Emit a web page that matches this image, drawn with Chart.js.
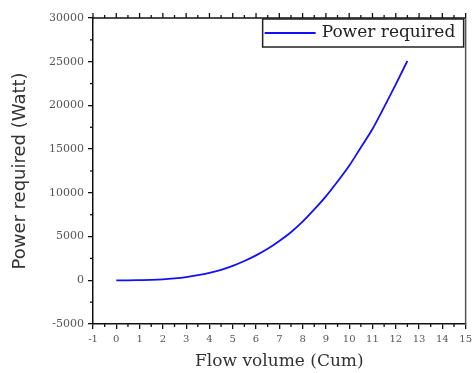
<!DOCTYPE html>
<html>
<head>
<meta charset="utf-8">
<script src="https://cdn.jsdelivr.net/npm/chart.js@4.4.1/dist/chart.umd.min.js"></script>
<style>
  html, body { margin: 0; padding: 0; background: #fff; }
  #wrap { width: 476px; height: 373px; }
</style>
</head>
<body>
<div id="wrap"><canvas id="powerChart" width="476" height="373"></canvas></div>
<script>
// data
const flowVolume = [0, 0.5, 1, 1.5, 2, 2.5, 3, 3.5, 4, 4.5, 5, 5.5, 6, 6.5, 7, 7.5, 8, 8.5, 9, 9.5, 10, 10.5, 11, 11.5, 12, 12.5];
const powerRequired = [0, 0, 20, 50, 110, 220, 370, 580, 850, 1200, 1650, 2200, 2850, 3600, 4500, 5500, 6700, 8100, 9600, 11300, 13100, 15200, 17300, 19800, 22400, 25100];
const xTickValues = [-1, 0, 1, 2, 3, 4, 5, 6, 7, 8, 9, 10, 11, 12, 13, 14, 15];
const yTickValues = [-5000, 0, 5000, 10000, 15000, 20000, 25000, 30000];

const seriesLabel = 'Power required';
const xTitle = 'Flow volume (Cum)';
const yTitle = 'Power required (Watt)';

// cadre, ticks mineurs et legende
const framePlugin = {
    id: 'frame',
    afterDraw(chart) {
        const ctx = chart.ctx;
        const area = chart.chartArea;
        const xs = chart.scales.x;
        const ys = chart.scales.y;
        ctx.save();
        ctx.strokeStyle = '#111';
        ctx.lineWidth = 1.5;

        // top border + right border
        ctx.beginPath();
        ctx.moveTo(area.left, area.top);
        ctx.lineTo(area.right, area.top);
        ctx.stroke();
        ctx.strokeStyle = '#555';
        ctx.beginPath();
        ctx.moveTo(area.right, area.top);
        ctx.lineTo(area.right, area.bottom);
        ctx.stroke();

        ctx.strokeStyle = '#111';
        ctx.lineWidth = 1.3;
        // x ticks: minor below, major+minor on top
        for (let i = 0; i < xTickValues.length; i++) {
            const v = xTickValues[i];
            const px = xs.getPixelForValue(v);
            ctx.beginPath();
            ctx.moveTo(px, area.top);
            ctx.lineTo(px, area.top - 5);
            ctx.stroke();
            if (i < xTickValues.length - 1) {
                const mx = xs.getPixelForValue((v + xTickValues[i + 1]) / 2);
                ctx.beginPath();
                ctx.moveTo(mx, area.bottom);
                ctx.lineTo(mx, area.bottom + 3);
                ctx.moveTo(mx, area.top);
                ctx.lineTo(mx, area.top - 3);
                ctx.stroke();
            }
        }
        // y minor ticks
        for (let i = 0; i < yTickValues.length - 1; i++) {
            const my = ys.getPixelForValue((yTickValues[i] + yTickValues[i + 1]) / 2);
            ctx.beginPath();
            ctx.moveTo(area.left, my);
            ctx.lineTo(area.left - 3, my);
            ctx.stroke();
        }

        // legende
        const ds = chart.data.datasets[0];
        const boxRight = area.right - 2;
        const boxLeft = boxRight - 201;
        const boxTop = area.top + 1;
        const boxH = 28;
        ctx.fillStyle = '#fff';
        ctx.fillRect(boxLeft, boxTop, boxRight - boxLeft, boxH);
        ctx.strokeStyle = '#222';
        ctx.lineWidth = 1.5;
        ctx.strokeRect(boxLeft, boxTop, boxRight - boxLeft, boxH);
        ctx.strokeStyle = ds.borderColor;
        ctx.lineWidth = ds.borderWidth;
        ctx.beginPath();
        ctx.moveTo(boxLeft + 2, boxTop + 14);
        ctx.lineTo(boxLeft + 53, boxTop + 14);
        ctx.stroke();
        ctx.fillStyle = '#222';
        ctx.font = '17px "DejaVu Serif", serif';
        ctx.textBaseline = 'middle';
        ctx.fillText(ds.label, boxLeft + 59, boxTop + 14);
        ctx.restore();
    }
};

const points = flowVolume.map((q, i) => ({ x: q, y: powerRequired[i] }));

new Chart(document.getElementById('powerChart'), {
    type: 'scatter',
    data: {
        datasets: [{
            label: seriesLabel,
            data: points,
            showLine: true,
            borderColor: '#1010ff',
            backgroundColor: '#1010ff',
            borderWidth: 1.8,
            pointRadius: 0,
            cubicInterpolationMode: 'monotone'
        }]
    },
    options: {
        responsive: false,
        animation: false,
        layout: { padding: { top: 18, right: 7, left: 0, bottom: 0 } },
        plugins: {
            legend: { display: false },
            tooltip: { enabled: false }
        },
        scales: {
            x: {
                type: 'linear',
                min: -1,
                max: 15,
                afterBuildTicks: (scale) => { scale.ticks = xTickValues.map(v => ({ value: v })); },
                afterFit: (scale) => { scale.height = 49; },
                border: { color: '#111', width: 1.5 },
                grid: { drawOnChartArea: false, drawTicks: true, tickLength: 5, color: '#111', lineWidth: 1.3 },
                ticks: {
                    autoSkip: false,
                    maxRotation: 0,
                    padding: 4,
                    color: '#555',
                    font: { family: '"DejaVu Serif", serif', size: 10 },
                    callback: (v) => String(v)
                },
                title: {
                    display: true,
                    text: xTitle,
                    color: '#333',
                    font: { family: '"DejaVu Serif", serif', size: 17, lineHeight: 1.2 },
                    padding: { top: 0, bottom: 1 }
                }
            },
            y: {
                type: 'linear',
                min: -5000,
                max: 30000,
                afterBuildTicks: (scale) => { scale.ticks = yTickValues.map(v => ({ value: v })); },
                afterFit: (scale) => { scale.width = 93; },
                border: { color: '#111', width: 1.5 },
                grid: { drawOnChartArea: false, drawTicks: true, tickLength: 5, color: '#111', lineWidth: 1.3 },
                ticks: {
                    autoSkip: false,
                    padding: 4,
                    color: '#555',
                    font: { family: '"DejaVu Serif", serif', size: 11 },
                    callback: (v) => String(v)
                },
                title: {
                    display: true,
                    text: yTitle,
                    color: '#333',
                    font: { family: '"DejaVu Sans", sans-serif', size: 18, lineHeight: 1.2 },
                    padding: { top: 10, bottom: 0 }
                }
            }
        }
    },
    plugins: [framePlugin]
});
</script>
</body>
</html>
